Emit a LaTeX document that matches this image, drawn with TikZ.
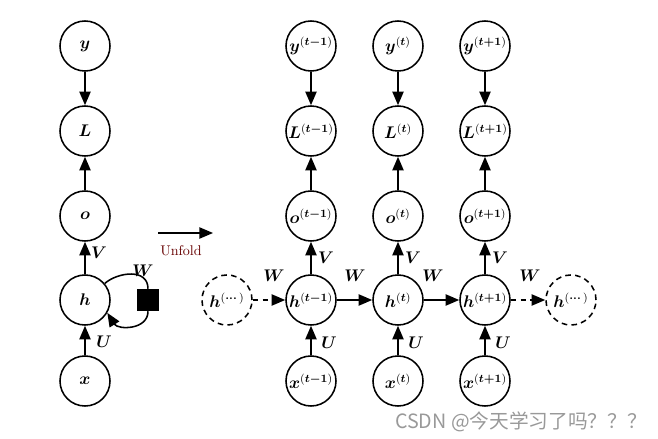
\documentclass[tikz,border=0pt]{standalone}
\usepackage{amsmath,bm}
\usepackage{fontspec}
\newfontfamily\cjk{Noto Sans CJK SC}
\usetikzlibrary{arrows.meta}
\begin{document}
\begin{tikzpicture}[x=0.025cm,y=-0.025cm,
  var/.style={circle,draw,line width=1.1pt,minimum size=1.25cm,inner sep=0pt,font=\large},
  dvar/.style={var,dash pattern=on 4pt off 3pt},
  arr/.style={line width=1.1pt,-{Triangle[length=0.34cm,width=0.28cm]}},
  lab/.style={font=\large}]
\useasboundingbox (0,0) rectangle (658,439);
% left folded graph
\node[var] (y) at (85,46) {$\bm{y}$};
\node[var] (L) at (85,131) {$\bm{L}$};
\node[var] (o) at (85,216) {$\bm{o}$};
\node[var] (h) at (85,300) {$\bm{h}$};
\node[var] (x) at (85,381) {$\bm{x}$};
\draw[arr] (y) -- (L);
\draw[arr] (o) -- (L);
\draw[arr] (h) -- (o);
\draw[arr] (x) -- (h);
\node[lab] at (99,253) {$\bm{V}$};
\node[lab] at (104,342) {$\bm{U}$};
\node[fill=black,minimum size=0.55cm,inner sep=0pt] (sq) at (148,300) {};
\draw[line width=1.1pt] (h.40) .. controls (118,272) and (148,268) .. (sq.north);
\draw[arr] (sq.south) .. controls (148,330) and (118,330) .. (h.-30);
\node[lab] at (143,271) {$\bm{W}$};
% unfold arrow
\coordinate (ua) at (158,233);
\coordinate (ub) at (213,233);
\draw[arr] (ua) -- (ub);
\node[font=\fontsize{10}{12}\selectfont,text=black!60!red] at (181,251) {Unfold};
% unfolded
\foreach \n/\xx/\s in {a/311/t-1, b/398/t, c/485/t+1}{
  \node[var] (y\n) at (\xx,46) {$\bm{y}^{(\bm{\s})}$};
  \node[var] (L\n) at (\xx,131) {$\bm{L}^{(\bm{\s})}$};
  \node[var] (o\n) at (\xx,216) {$\bm{o}^{(\bm{\s})}$};
  \node[var] (h\n) at (\xx,300) {$\bm{h}^{(\bm{\s})}$};
  \node[var] (x\n) at (\xx,381) {$\bm{x}^{(\bm{\s})}$};
  \draw[arr] (y\n) -- (L\n);
  \draw[arr] (o\n) -- (L\n);
  \draw[arr] (h\n) -- (o\n);
  \draw[arr] (x\n) -- (h\n);
  \node[lab] at (\xx+15,258) {$\bm{V}$};
  \node[lab] at (\xx+18,343) {$\bm{U}$};
}
\node[dvar] (hl) at (227,300) {$\bm{h}^{(\bm{\cdots})}$};
\node[dvar] (hr) at (571,300) {$\bm{h}^{(\bm{\cdots})}$};
\draw[arr,dash pattern=on 4pt off 3pt] (hl) -- (ha);
\draw[arr] (ha) -- (hb);
\draw[arr] (hb) -- (hc);
\draw[arr,dash pattern=on 4pt off 3pt] (hc) -- (hr);
\node[lab] at (274,276) {$\bm{W}$};
\node[lab] at (355,276) {$\bm{W}$};
\node[lab] at (433,276) {$\bm{W}$};
\node[lab] at (530,276) {$\bm{W}$};
% watermark
\node[font=\cjk\fontsize{14}{16}\selectfont,text=black!40] at (521,422) {CSDN @今天学习了吗？？？};
\end{tikzpicture}
\end{document}
